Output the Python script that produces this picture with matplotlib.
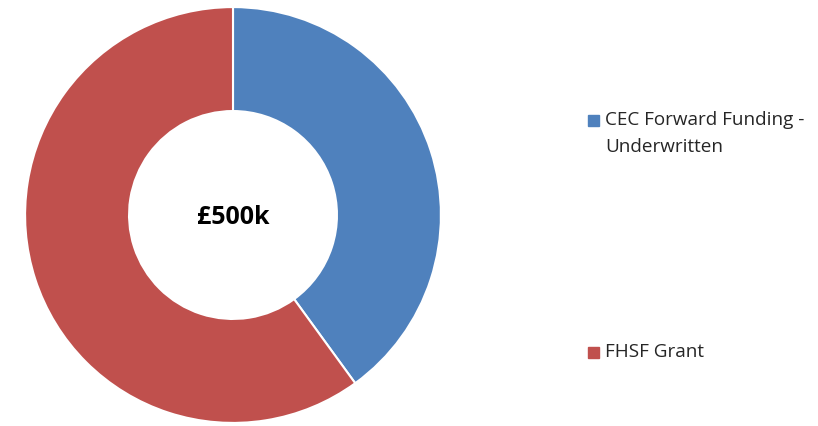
import matplotlib.pyplot as plt
from matplotlib.patches import Rectangle

labels = ['CEC Forward Funding -\nUnderwritten', 'FHSF Grant']
values = [200, 300]
colors = ['#4F81BD', '#C0504D']
total_label = '£500k'

W, H = 818, 426
fig = plt.figure(figsize=(W / 100, H / 100), dpi=100)

cx, cy, r = 233, 215, 210
ax = fig.add_axes([(cx - r) / W, (H - cy - r) / H, 2 * r / W, 2 * r / H])
ax.pie(values, colors=colors, startangle=90, counterclock=False, radius=1,
       wedgeprops=dict(width=0.5, edgecolor='white', linewidth=1.5))
ax.set_xlim(-1.01, 1.01)
ax.set_ylim(-1.01, 1.01)
ax.set_aspect('equal')
ax.axis('off')
ax.text(0, -0.01, total_label, ha='center', va='center', fontsize=18,
        fontweight='bold', family='Open Sans')

# legend drawn by hand to keep its split layout
legend_y = [120, 352]
for lab, col, y in zip(labels, colors, legend_y):
    fig.patches.append(Rectangle((588 / W, (H - y - 6) / H), 11 / W, 11 / H,
                                 transform=fig.transFigure, color=col))
    for i, line in enumerate(lab.split('\n')):
        fig.text(605 / W, (H - y - 27 * i) / H, line, ha='left', va='center',
                 fontsize=13.6, family='Open Sans', color='#262626')

fig.savefig('out.png', dpi=100)
